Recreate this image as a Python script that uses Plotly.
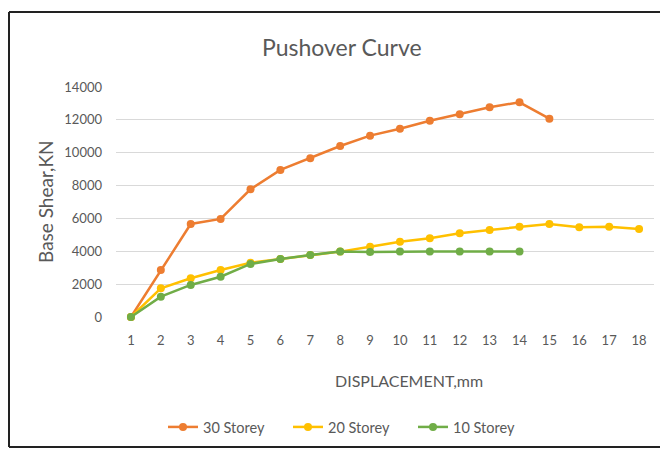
import plotly.graph_objects as go

displacement = list(range(1, 19))
storey30 = [0, 2860, 5660, 5970, 7770, 8950, 9660, 10410, 11040, 11460, 11950, 12340, 12770, 13070, 12070]
storey20 = [0, 1750, 2360, 2860, 3300, 3530, 3770, 3980, 4280, 4580, 4790, 5100, 5300, 5500, 5660, 5460, 5500, 5360]
storey10 = [0, 1240, 1950, 2450, 3230, 3530, 3770, 3980, 3950, 3980, 3980, 3980, 3980, 3980]
y_ticks = [0, 2000, 4000, 6000, 8000, 10000, 12000, 14000]

# page body has an 8px margin: the figure starts at (8, 8) in the window
OFF = 8
W, H = 668 - 2 * OFF, 451 - OFF
L, R, T, B = 116 - OFF, 654 - OFF, 87 - OFF, 317 - OFF
pw, ph = R - L, B - T

def px(x):  # window pixel -> paper x
    return (x - OFF - L) / pw

def py(y):  # window pixel -> paper y
    return (B - (y - OFF)) / ph

FONT = "Lato"
GRAY = "#595959"

fig = go.Figure()
series = [("30 Storey", storey30, "#ED7D31"),
          ("20 Storey", storey20, "#FFC000"),
          ("10 Storey", storey10, "#70AD47")]
for name, vals, col in series:
    fig.add_trace(go.Scatter(
        x=displacement[:len(vals)], y=vals, name=name, mode="lines+markers",
        line=dict(color=col, width=2.5),
        marker=dict(color=col, size=8, line=dict(width=0)),
        cliponaxis=False,
    ))

fig.update_layout(
    width=W, height=H,
    margin=dict(l=L, r=W - R, t=T, b=H - B, autoexpand=False),
    paper_bgcolor="white", plot_bgcolor="white",
    font=dict(family=FONT, color=GRAY, size=13),
    showlegend=True,
    legend=dict(orientation="h", x=px(163), xanchor="left", y=py(427), yanchor="middle",
                font=dict(size=14.5, color=GRAY), entrywidth=80, entrywidthmode="pixels",
                tracegroupgap=0, bgcolor="rgba(0,0,0,0)"),
    xaxis=dict(range=[0.5, 18.5], tickmode="array", tickvals=displacement,
               ticktext=[str(d) for d in displacement], showgrid=False, zeroline=False,
               showline=False, ticks="", tickfont=dict(size=13, color=GRAY),
               ticklabelstandoff=14, fixedrange=True),
    yaxis=dict(range=[0, 14000], tickmode="array", tickvals=y_ticks,
               ticktext=[str(v) for v in y_ticks], showgrid=True, gridcolor="#d9d9d9",
               gridwidth=1, zeroline=False, showline=False, ticks="",
               tickfont=dict(size=13, color=GRAY), ticklabelstandoff=13, fixedrange=True),
    annotations=[
        dict(text="Pushover Curve", x=px(342), y=py(47), xref="paper", yref="paper",
             showarrow=False, font=dict(size=23, color=GRAY), xanchor="center", yanchor="middle"),
        dict(text="Base Shear,KN", x=px(45), y=py(202), xref="paper", yref="paper",
             showarrow=False, textangle=-90, font=dict(size=19, color=GRAY),
             xanchor="center", yanchor="middle"),
        dict(text="DISPLACEMENT,mm", x=px(409), y=py(380), xref="paper", yref="paper",
             showarrow=False, font=dict(size=16, color=GRAY), xanchor="center", yanchor="middle"),
    ],
)
# frame: left, top and bottom edges (right edge is cut off in the reference)
frame = dict(color="#222222", width=2)
fig.add_shape(type="line", xref="paper", yref="paper", x0=px(9), x1=px(668), y0=py(12), y1=py(12), line=frame, layer="below")
fig.add_shape(type="line", xref="paper", yref="paper", x0=px(9), x1=px(668), y0=py(447), y1=py(447), line=frame, layer="below")
fig.add_shape(type="line", xref="paper", yref="paper", x0=px(9), x1=px(9), y0=py(12), y1=py(447), line=frame, layer="below")

fig.write_html("out.html")
